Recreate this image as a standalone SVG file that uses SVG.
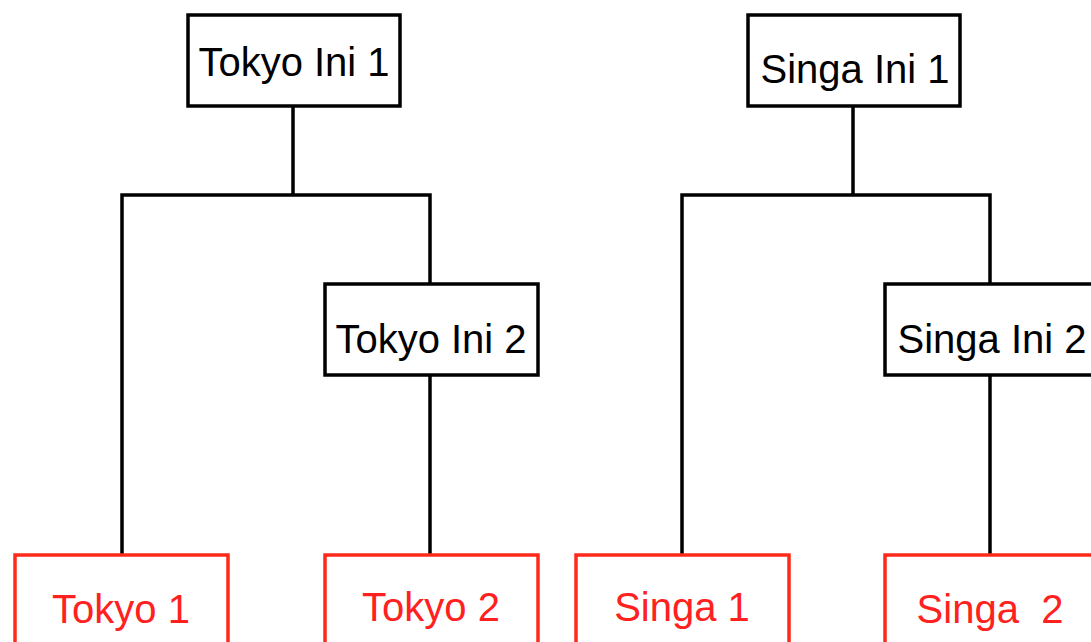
<svg xmlns="http://www.w3.org/2000/svg" width="1091" height="642" viewBox="0 0 1091 642">
<style>
.box{fill:#fff;stroke:#000;stroke-width:3.5}
.rbox{fill:#fff;stroke:#ff2a1a;stroke-width:3.5}
.t{font-family:"Liberation Sans",Arial,sans-serif;font-size:40px;fill:#000;text-anchor:middle}
.rt{font-family:"Liberation Sans",Arial,sans-serif;font-size:40px;fill:#ff2020;text-anchor:middle}
.c{fill:none;stroke:#000;stroke-width:3.5}
</style>
<rect width="1091" height="642" fill="#fff"/>
<g id="connectors">
<polyline class="c" points="293,106 293,195"/>
<polyline class="c" points="122,555 122,195 430,195 430,284"/>
<polyline class="c" points="430,375 430,555"/>
<polyline class="c" points="853,106 853,195"/>
<polyline class="c" points="682,555 682,195 990,195 990,284"/>
<polyline class="c" points="990,375 990,555"/>
</g>
<g id="tokyo-ini-1"><rect class="box" x="188" y="15" width="212" height="91"/><text class="t" x="294" y="76">Tokyo Ini 1</text></g>
<g id="tokyo-ini-2"><rect class="box" x="325" y="284" width="213" height="91"/><text class="t" x="431" y="353">Tokyo Ini 2</text></g>
<g id="singa-ini-1"><rect class="box" x="748" y="15" width="212" height="91"/><text class="t" x="855" y="83">Singa Ini 1</text></g>
<g id="singa-ini-2"><rect class="box" x="885" y="284" width="213" height="91"/><text class="t" x="992" y="353">Singa Ini 2</text></g>
<g id="tokyo-1"><rect class="rbox" x="15" y="555" width="213" height="100"/><text class="rt" x="121" y="623">Tokyo 1</text></g>
<g id="tokyo-2"><rect class="rbox" x="325" y="555" width="213" height="100"/><text class="rt" x="431" y="621">Tokyo 2</text></g>
<g id="singa-1"><rect class="rbox" x="576" y="555" width="213" height="100"/><text class="rt" x="682" y="621">Singa 1</text></g>
<g id="singa-2"><rect class="rbox" x="885" y="555" width="213" height="100"/><text class="rt" x="990" y="623" xml:space="preserve">Singa  2</text></g>
</svg>
